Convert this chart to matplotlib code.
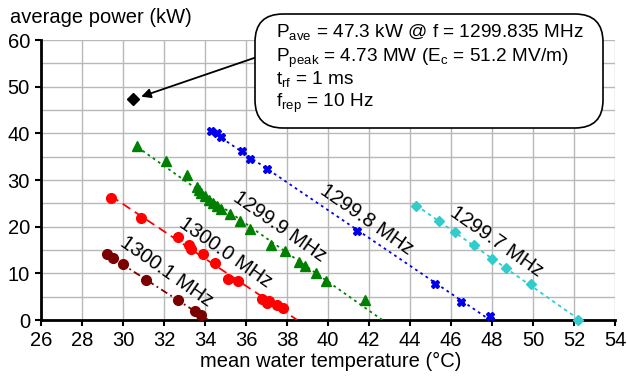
import numpy as np
import matplotlib
matplotlib.use('Agg')
from matplotlib import pyplot as plt
from matplotlib.patches import FancyBboxPatch
from matplotlib.transforms import IdentityTransform
from matplotlib.ticker import MultipleLocator

plt.rcParams['font.family'] = ['Liberation Sans', 'DejaVu Sans']
plt.rcParams['mathtext.fontset'] = 'custom'
plt.rcParams['mathtext.rm'] = 'Liberation Sans'

# temperature (C) and average power (kW) per frequency
t_13001 = [29.2, 29.5, 30.0, 31.1, 32.7, 33.5, 33.8]
p_13001 = [14.2, 13.2, 12.0, 8.5, 4.2, 2.0, 1.0]

t_13000 = [29.4, 30.9, 32.7, 33.2, 33.3, 33.9, 34.5, 35.1, 35.6, 36.8, 37.0, 37.1, 37.5, 37.8]
p_13000 = [26.2, 21.8, 17.7, 16.0, 15.2, 14.2, 12.3, 8.7, 8.4, 4.5, 3.6, 4.0, 3.3, 2.6]

t_12999 = [30.7, 32.1, 33.1, 33.6, 33.7, 33.8, 34.0, 34.2, 34.4, 34.6, 34.8, 35.2, 35.7,
           36.2, 37.2, 37.9, 38.6, 38.9, 39.4, 39.9, 41.8]
p_12999 = [37.3, 34.0, 31.0, 28.5, 27.8, 27.2, 26.6, 25.8, 25.0, 24.4, 23.8, 22.8, 21.3,
           19.5, 16.1, 14.7, 12.5, 11.5, 10.0, 8.3, 4.3]

t_12998 = [34.3, 34.6, 34.8, 35.8, 36.2, 37.0, 41.4, 45.2, 46.5, 47.9]
p_12998 = [40.5, 40.0, 39.2, 36.2, 34.6, 32.3, 19.0, 7.8, 3.8, 0.8]

t_12997 = [44.3, 45.4, 46.2, 47.1, 48.0, 48.7, 49.9, 52.2]
p_12997 = [24.4, 21.3, 18.8, 16.0, 13.0, 11.1, 7.7, 0.0]

t_best = [30.5]
p_best = [47.3]

labels = ['1300.1 MHz', '1300.0 MHz', '1299.9 MHz', '1299.8 MHz', '1299.7 MHz']
label_t = [32.1, 35.0, 37.65, 41.9, 48.2]
label_p = [10.4, 14.5, 20.0, 21.6, 16.8]

fig = plt.figure(figsize=(6.27, 3.78), dpi=100)
ax = fig.add_axes([0.0654, 0.1534, 0.9156, 0.7406])

series = [
    (t_13001, p_13001, '#7a0000', 'o', 7, (0, (4, 2, 1, 2))),
    (t_13000, p_13000, '#ff0000', 'o', 7, (0, (5, 3))),
    (t_12999, p_12999, '#008000', '^', 7.5, (0, (1.5, 2))),
    (t_12998, p_12998, '#0000ee', 'X', 5.5, (0, (1.5, 2))),
    (t_12997, p_12997, '#33cccc', 'D', 5, (0, (2, 2))),
]

for t, p, c, m, ms, ls in series:
    t = np.array(t)
    p = np.array(p)
    k, b = np.polyfit(t, p, 1)
    x0 = t.min()
    x1 = -b / k
    ax.plot([x0, x1], [k * x0 + b, 0], color=c, lw=1.3, ls=ls, zorder=3)
    ax.plot(t, p, ls='none', marker=m, ms=ms, color=c, mec=c, zorder=4, clip_on=False)

ax.plot(t_best, p_best, ls='none', marker='D', ms=6.5, color='black', zorder=4)

for lab, x, y in zip(labels, label_t, label_p):
    ax.text(x, y, lab, rotation=-35, fontsize=14.5, ha='center', va='center',
            rotation_mode='anchor', zorder=5)

ax.set_xlim(26, 54)
ax.set_ylim(0, 60)
ax.xaxis.set_major_locator(MultipleLocator(2))
ax.yaxis.set_major_locator(MultipleLocator(10))
ax.yaxis.set_minor_locator(MultipleLocator(5))
ax.grid(True, which='both', color='#b8b8b8', lw=1, zorder=0)
ax.set_axisbelow(True)
ax.tick_params(labelsize=14.5, length=4, width=1.5, pad=4)
ax.tick_params(which='minor', length=0)
for s in ['top', 'right']:
    ax.spines[s].set_visible(False)
for s in ['left', 'bottom']:
    ax.spines[s].set_linewidth(2)
fig.text(0.527, 0.045, 'mean water temperature (°C)', fontsize=14.5, ha='center', va='center')
fig.text(0.016, 0.955, 'average power (kW)', fontsize=14.5, ha='left', va='center')

# info box
box = FancyBboxPatch((255, 378 - 128), 348, 114, boxstyle='round,pad=0,rounding_size=28',
                     transform=IdentityTransform(), facecolor='white', edgecolor='black',
                     lw=1.2, zorder=10)
fig.patches.append(box)
lines = [r'P$_{\rm ave}$ = 47.3 kW @ f = 1299.835 MHz',
         r'P$_{\rm peak}$ = 4.73 MW (E$_{\rm c}$ = 51.2 MV/m)',
         r't$_{\rm rf}$ = 1 ms',
         r'f$_{\rm rep}$ = 10 Hz']
line_y = [33, 58, 80, 103]
for s, y in zip(lines, line_y):
    fig.text(276 / 627, 1 - y / 378, s, fontsize=13.7, ha='left', va='center', zorder=11)

ax.annotate('', xy=(30.5, 47.3), xycoords='data',
            xytext=(257, 378 - 57), textcoords='figure pixels',
            arrowprops=dict(arrowstyle='-|>', color='black', lw=1.3,
                            mutation_scale=14, shrinkA=0, shrinkB=6), zorder=9)

fig.savefig('out.png', dpi=100)
